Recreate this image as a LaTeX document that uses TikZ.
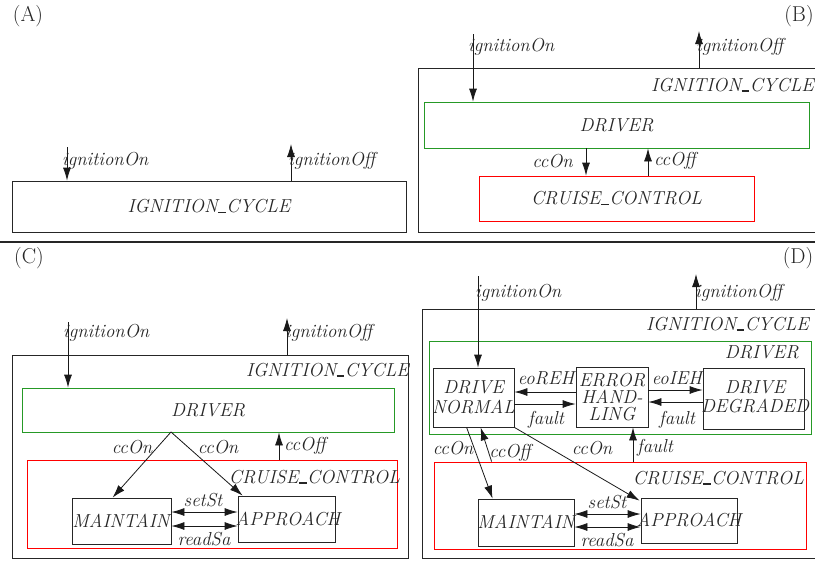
\documentclass[tikz,border=0pt]{standalone}
\usetikzlibrary{arrows.meta,fit}
\newcommand\usc{\kern0.03em\rule[-0.4pt]{0.4em}{1.4pt}\kern0.03em}
\begin{document}
\begin{tikzpicture}[x=1pt,y=-1pt,
  every node/.style={inner sep=0pt, text=black!85},
  lbl/.style={font=\fontsize{18.8}{19.5}\selectfont\itshape},
  plbl/.style={font=\fontsize{21.5}{24}\selectfont},
  box/.style={draw=black!85, line width=0.8pt, inner sep=0pt},
  gbox/.style={draw={rgb,1:red,0.15;green,0.6;blue,0.15}, line width=0.8pt, inner sep=0pt},
  rbox/.style={draw=red, line width=0.8pt, inner sep=0pt},
  arr/.style={-{Latex[length=13pt,width=8pt]}, line width=0.8pt, draw=black!90},
  darr/.style={{Latex[length=13pt,width=8pt]}-{Latex[length=13pt,width=8pt]}, line width=0.8pt, draw=black!90},
  txt/.style={lbl, align=center}]
\useasboundingbox (0,0) rectangle (815,563);

% panel labels and separator
\node[plbl] (pA) at (28,16) {(A)};
\node[plbl] (pB) at (799,16) {(B)};
\node[plbl] (pC) at (29,258) {(C)};
\node[plbl] (pD) at (798,258) {(D)};
\draw[line width=1.6pt, black!85] (0,242) -- (815,242);

% ---------------- Panel A ----------------
\node[box, fit={(12,181)(406,232)}] (aIC) {};
\node[lbl] (aICt) at (aIC.center) {IGNITION\usc CYCLE};
\coordinate (aOn) at (67,147);
\draw[arr] (aOn) -- (aOn |- aIC.north);
\node[lbl, anchor=west] (aOnL) at (62,161) {ignitionOn};
\coordinate (aOff) at (291,144);
\draw[arr] (aOff |- aIC.north) -- (aOff);
\node[lbl, anchor=west] (aOffL) at (288,161) {ignitionOff};

% ---------------- Panel B ----------------
\node[box, fit={(418,68)(815,232)}] (bIC) {};
\node[lbl, anchor=east] (bICt) at (814,85) {IGNITION\usc CYCLE};
\node[gbox, fit={(424,102)(809,148)}] (bDr) {};
\node[lbl] (bDrt) at (bDr.center) {DRIVER};
\node[rbox, fit={(479,176)(754,221)}] (bCC) {};
\node[lbl] (bCCt) at (bCC.center) {CRUISE\usc CONTROL};
\coordinate (bOn) at (473,34);
\draw[arr] (bOn) -- (bOn |- bDr.north);
\node[lbl, anchor=west] (bOnL) at (468,47) {ignitionOn};
\coordinate (bOff) at (699,31);
\draw[arr] (bOff |- bIC.north) -- (bOff);
\node[lbl, anchor=west] (bOffL) at (696,47) {ignitionOff};
\coordinate (bx1) at (586,0);
\coordinate (bx2) at (648,0);
\draw[arr] (bDr.south -| bx1) -- (bCC.north -| bx1);
\draw[arr] (bCC.north -| bx2) -- (bDr.south -| bx2);
\node[lbl, anchor=east] (bccOn) at (573,161) {ccOn};
\node[lbl, anchor=west] (bccOff) at (654,161) {ccOff};

% ---------------- Panel C ----------------
\node[box, fit={(12,355)(408,558)}] (cIC) {};
\node[lbl, anchor=east] (cICt) at (409,370) {IGNITION\usc CYCLE};
\node[gbox, fit={(22,388)(394,432)}] (cDr) {};
\node[lbl] (cDrt) at (cDr.center) {DRIVER};
\node[rbox, fit={(27,460)(397,548)}] (cCC) {};
\node[lbl, anchor=east] (cCCt) at (400,477) {CRUISE\usc CONTROL};
\node[box, fit={(72,498)(171,544)}] (cMa) {};
\node[lbl] (cMat) at (121,521) {MAINTAIN};
\node[box, fit={(238,496)(335,542)}] (cAp) {};
\node[lbl] (cApt) at (288,519) {APPROACH};
\coordinate (cy1) at (0,512);
\coordinate (cy2) at (0,526);
\draw[darr] (cMa.east |- cy1) -- (cAp.west |- cy1);
\draw[darr] (cMa.east |- cy2) -- (cAp.west |- cy2);
\node[lbl] (csetSt) at (203,500) {setSt};
\node[lbl] (creadSa) at (204,539) {readSa};
\coordinate (cOn) at (68,322);
\draw[arr] (cOn) -- (cOn |- cDr.north);
\node[lbl, anchor=west] (cOnL) at (63,333) {ignitionOn};
\coordinate (cOff) at (287,318);
\draw[arr] (cOff |- cIC.north) -- (cOff);
\node[lbl, anchor=west] (cOffL) at (285,333) {ignitionOff};
\coordinate (cSrc) at (171,432);
\draw[arr] (cSrc) -- ([xshift=41pt]cMa.north west);
\draw[arr] (cSrc) -- ([xshift=5pt]cAp.north west);
\node[lbl] (cccOn1) at (132,447) {ccOn};
\node[lbl] (cccOn2) at (218,447) {ccOn};
\coordinate (cx1) at (279,0);
\draw[arr] (cCC.north -| cx1) -- (cDr.south -| cx1);
\node[lbl, anchor=west] (cccOff) at (284,446) {ccOff};

% ---------------- Panel D ----------------
\node[box, fit={(422,309)(815,558)}] (dIC) {};
\node[lbl, anchor=east] (dICt) at (809,324) {IGNITION\usc CYCLE};
\node[gbox, fit={(429,341)(811,434)}] (dDr) {};
\node[lbl, anchor=east] (dDrt) at (799,352) {DRIVER};
\node[box, fit={(433,368)(514,427)}] (dDN) {};
\node[txt] (dDNt) at (dDN.center) {DRIVE\\NORMAL};
\node[box, fit={(576,367)(648,427)}] (dEH) {};
\node[txt, font=\fontsize{18.8}{17}\selectfont\itshape] (dEHt) at (dEH.center) {ERROR\\HAND-\\LING};
\node[box, fit={(703,368)(804,429)}] (dDD) {};
\node[txt] (dDDt) at (755,397) {DRIVE\\DEGRADED};
\coordinate (dy1) at (0,392);
\coordinate (dy2) at (0,404);
\coordinate (dy3) at (0,390);
\coordinate (dy4) at (0,402);
\draw[arr] (dEH.west |- dy1) -- (dDN.east |- dy1);
\draw[arr] (dDN.east |- dy2) -- (dEH.west |- dy2);
\draw[arr] (dEH.east |- dy3) -- (dDD.west |- dy3);
\draw[arr] (dDD.west |- dy4) -- (dEH.east |- dy4);
\node[lbl] (deoREH) at (546,378) {eoREH};
\node[lbl] (dfault1) at (546,420) {fault};
\node[lbl] (deoIEH) at (677,378) {eoIEH};
\node[lbl] (dfault2) at (677,420) {fault};
\node[rbox, fit={(434,462)(806,549)}] (dCC) {};
\node[lbl, anchor=east] (dCCt) at (804,478) {CRUISE\usc CONTROL};
\node[box, fit={(478,499)(574,546)}] (dMa) {};
\node[lbl] (dMat) at (526,522) {MAINTAIN};
\node[box, fit={(641,498)(737,543)}] (dAp) {};
\node[lbl] (dApt) at (689,520) {APPROACH};
\coordinate (dy5) at (0,514);
\coordinate (dy6) at (0,527);
\draw[darr] (dMa.east |- dy5) -- (dAp.west |- dy5);
\draw[darr] (dMa.east |- dy6) -- (dAp.west |- dy6);
\node[lbl] (dsetSt) at (607,502) {setSt};
\node[lbl] (dreadSa) at (607,540) {readSa};
\coordinate (dOn) at (478,276);
\draw[arr] (dOn) -- (dOn |- dDN.north);
\node[lbl, anchor=west] (dOnL) at (475,293) {ignitionOn};
\coordinate (dOff) at (696,274);
\draw[arr] (dOff |- dIC.north) -- (dOff);
\node[lbl, anchor=west] (dOffL) at (695,293) {ignitionOff};
\draw[arr] ([xshift=34pt]dDN.south west) -- ([xshift=15pt]dMa.north west);
\draw[arr] ([xshift=58pt]dCC.north west) -- ([xshift=48pt]dDN.south west);
\draw[arr] (dDN.south east) -- ([xshift=-1pt,yshift=-3pt]dAp.north west);
\coordinate (dx1) at (633,0);
\draw[arr] (dCC.north -| dx1) -- (dEH.south -| dx1);
\node[lbl] (dccOn1) at (453,448) {ccOn};
\node[lbl] (dccOff) at (510,453) {ccOff};
\node[lbl] (dccOn2) at (592,448) {ccOn};
\node[lbl, anchor=west] (dfault3) at (637,448) {fault};
\end{tikzpicture}
\end{document}
